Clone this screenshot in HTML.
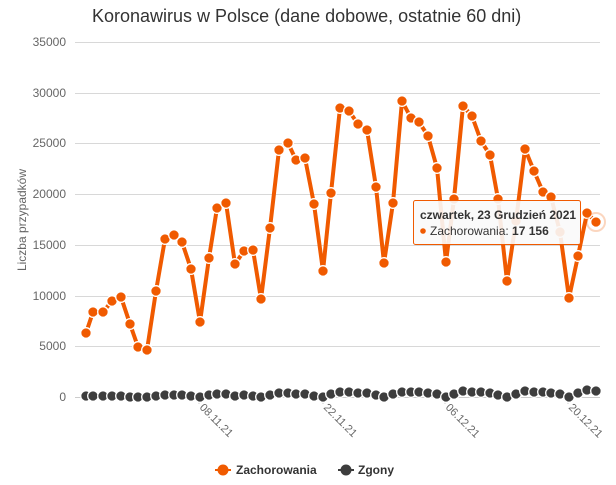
<!DOCTYPE html>
<html><head><meta charset="utf-8"><style>
body{margin:0;background:#fff;width:616px;height:480px;overflow:hidden;font-family:"Liberation Sans",sans-serif}
</style></head><body>
<svg width="616" height="480" viewBox="0 0 616 480" xmlns="http://www.w3.org/2000/svg" font-family="Liberation Sans, sans-serif">
<defs>
<marker id="mo" markerUnits="userSpaceOnUse" markerWidth="14" markerHeight="14" refX="7" refY="7"><circle cx="7" cy="7" r="5.3" fill="#f05a00" stroke="#fff" stroke-width="1.3"/></marker>
<marker id="md" markerUnits="userSpaceOnUse" markerWidth="14" markerHeight="14" refX="7" refY="7"><circle cx="7" cy="7" r="5.3" fill="#3d3d3d" stroke="#fff" stroke-width="1.3"/></marker>
</defs>
<text x="92" y="22" font-size="18" fill="#333">Koronawirus w Polsce (dane dobowe, ostatnie 60 dni)</text>
<g stroke="#d8d8d8" stroke-width="1">
<line x1="75" y1="42.5" x2="600" y2="42.5"/><line x1="75" y1="93.5" x2="600" y2="93.5"/><line x1="75" y1="143.5" x2="600" y2="143.5"/><line x1="75" y1="194.5" x2="600" y2="194.5"/><line x1="75" y1="245.5" x2="600" y2="245.5"/><line x1="75" y1="296.5" x2="600" y2="296.5"/><line x1="75" y1="346.5" x2="600" y2="346.5"/>
</g>
<line x1="75" y1="397.5" x2="600" y2="397.5" stroke="#ccc"/>
<g font-size="12" fill="#666" text-anchor="end">
<text x="66" y="46">35000</text><text x="66" y="97">30000</text><text x="66" y="147">25000</text><text x="66" y="198">20000</text><text x="66" y="249">15000</text><text x="66" y="300">10000</text><text x="66" y="350">5000</text><text x="66" y="401">0</text>
</g>
<text transform="translate(26,220) rotate(-90)" font-size="12" fill="#666" text-anchor="middle">Liczba przypadków</text>
<g stroke="#ccc"><line x1="199" y1="398" x2="199" y2="404"/><line x1="323" y1="398" x2="323" y2="404"/><line x1="445" y1="398" x2="445" y2="404"/><line x1="568" y1="398" x2="568" y2="404"/></g>
<g font-size="11" fill="#666">
<text transform="translate(199,408) rotate(45)">08.11.21</text>
<text transform="translate(323,408) rotate(45)">22.11.21</text>
<text transform="translate(445,408) rotate(45)">06.12.21</text>
<text transform="translate(568,408) rotate(45)">20.12.21</text>
</g>
<polyline fill="none" stroke="#3d3d3d" stroke-width="4" marker-start="url(#md)" marker-mid="url(#md)" marker-end="url(#md)" points="86,396 93,396 103,396 112,396 121,396 130,397 138,397 147,397 156,396 165,395 174,395 182,395 191,396 200,397 209,395 217,394 226,394 235,396 244,395 253,396 261,397 270,395 279,393 288,393 296,394 305,394 314,396 323,397 331,394 340,392 349,392 358,393 367,393 376,395 384,397 393,394 402,392 411,392 419,392 428,393 437,394 446,397 454,394 463,391 472,392 481,392 490,393 498,395 507,397 516,394 525,391 534,392 543,392 551,393 560,394 569,397 578,393 587,390 596,391"/>
<polyline fill="none" stroke="#f05a00" stroke-width="4" stroke-linejoin="round" marker-start="url(#mo)" marker-mid="url(#mo)" marker-end="url(#mo)" points="86,333 93,312 103,312 112,301 121,297 130,324 138,347 147,350 156,291 165,239 174,235 182,242 191,269 200,322 209,258 217,208 226,203 235,264 244,251 253,250 261,299 270,228 279,150 288,143 296,160 305,158 314,204 323,271 331,193 340,108 349,111 358,124 367,130 376,187 384,263 393,203 402,101 411,118 419,122 428,136 437,168 446,262 454,199 463,106 472,116 481,141 490,155 498,199 507,281 516,221 525,149 534,171 543,192 551,197 560,232 569,298 578,256 587,213 596,222"/>
<circle cx="596" cy="222" r="9" fill="none" stroke="#f05a00" stroke-opacity="0.25" stroke-width="2"/>
<rect x="413.5" y="200.5" width="167" height="44" rx="2" fill="#fafafa" fill-opacity="0.9" stroke="#f05a00"/>
<text x="420" y="219" font-size="12" font-weight="bold" fill="#333">czwartek, 23 Grudzień 2021</text>
<circle cx="423" cy="231" r="2.8" fill="#f05a00"/>
<text x="430" y="235" font-size="12" fill="#333">Zachorowania: <tspan font-weight="bold">17 156</tspan></text>
<line x1="215" y1="470" x2="231" y2="470" stroke="#f05a00" stroke-width="2"/>
<circle cx="223" cy="470" r="5.5" fill="#f05a00"/>
<text x="236" y="474" font-size="12" font-weight="bold" fill="#333">Zachorowania</text>
<line x1="338" y1="470" x2="354" y2="470" stroke="#3d3d3d" stroke-width="2"/>
<circle cx="346" cy="470" r="5.5" fill="#3d3d3d"/>
<text x="358" y="474" font-size="12" font-weight="bold" fill="#333">Zgony</text>
</svg>
</body></html>
